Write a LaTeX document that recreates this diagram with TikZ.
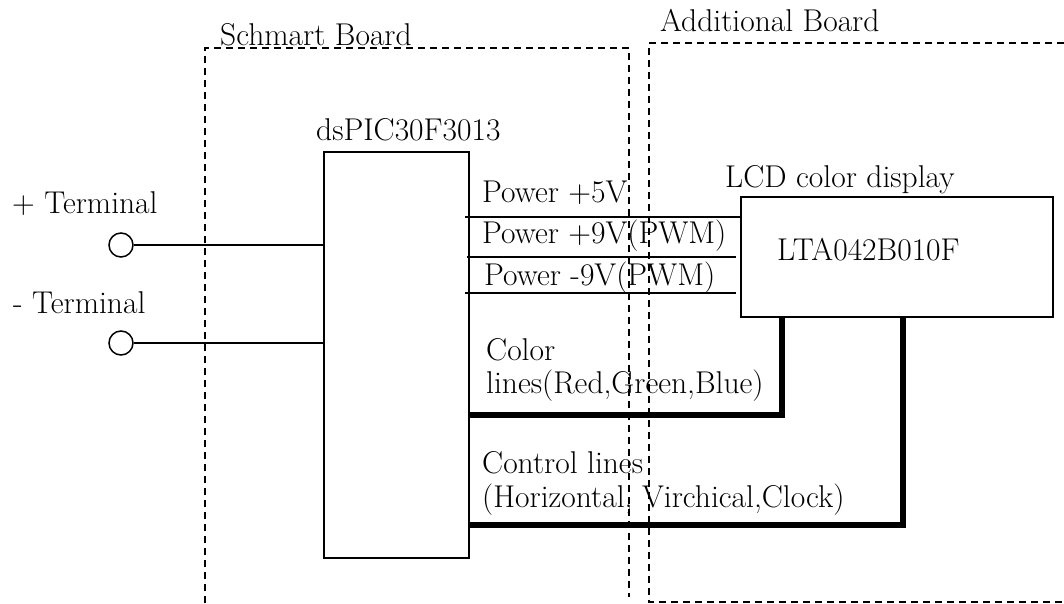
\documentclass[tikz,border=0pt]{standalone}
\usepackage{fontspec}
\begin{document}
\begin{tikzpicture}[x=1pt,y=-1pt,
  txt/.style={anchor=base west,inner sep=0pt,font=\fontsize{31.5}{38}\selectfont},
  board/.style={draw,line width=1.4pt,dash pattern=on 7pt off 5pt},
  blk/.style={draw,line width=1.6pt,inner sep=0pt},
  wire/.style={line width=1.6pt},
  bus/.style={line width=6pt},
  term/.style={draw,circle,line width=1.5pt,minimum size=24pt,inner sep=0pt}]
\useasboundingbox (0,0) rectangle (1064,603);
% boards
\draw[board] (205,603) -- (205,48) -- (629,48) -- (629,597);
\draw[board] (1064,43) -- (649,43) -- (649,602) -- (1064,602);
\node[txt] (sbl) at (220,45) {Schmart Board};
\node[txt] (abl) at (660,31) {Additional Board};
% blocks
\node[blk,minimum width=145pt,minimum height=406pt] (dsp) at (396.5,355) {};
\node[txt] (dspl) at (316,140) {dsPIC30F3013};
\node[blk,minimum width=312pt,minimum height=120pt] (lcd) at (897,257) {};
\node[txt] (lcdl) at (725,187) {LCD color display};
\node[txt] (lta) at (777,260) {LTA042B010F};
% terminals
\node[term] (tp) at (121,245) {};
\node[term] (tm) at (121,343) {};
\node[txt] (tpl) at (12,213) {+ Terminal};
\node[txt] (tml) at (13,313) {- Terminal};
\draw[wire] (tp.east) -- (dsp.west |- tp.east);
\draw[wire] (tm.east) -- (dsp.west |- tm.east);
% power lines
\coordinate (p1) at (465,217);
\coordinate (p2) at (467,257);
\coordinate (p3) at (465,293);
\draw[wire] (p1) -- (lcd.west |- p1);
\draw[wire] (p2) -- ([xshift=-4pt]lcd.west |- p2);
\draw[wire] (p3) -- ([xshift=-4pt]lcd.west |- p3);
\node[txt] (pl1) at (482,202) {Power +5V};
\node[txt] (pl2) at (482,243) {Power +9V(PWM)};
\node[txt] (pl3) at (484,285) {Power -9V(PWM)};
% buses
\coordinate (c1) at (782,415);
\coordinate (c2) at (903,525);
\draw[bus] (dsp.east |- c1) -- (c1) -- (lcd.south -| c1);
\draw[bus] (dsp.east |- c2) -- (c2) -- (lcd.south -| c2);
\node[txt] (cl1) at (486,360) {Color};
\node[txt] (cl2) at (486,393) {lines(Red,Green,Blue)};
\node[txt] (ctl1) at (482,473) {Control lines};
\node[txt] (ctl2) at (482,507) {(Horizontal, Virchical,Clock)};
\end{tikzpicture}
\end{document}
